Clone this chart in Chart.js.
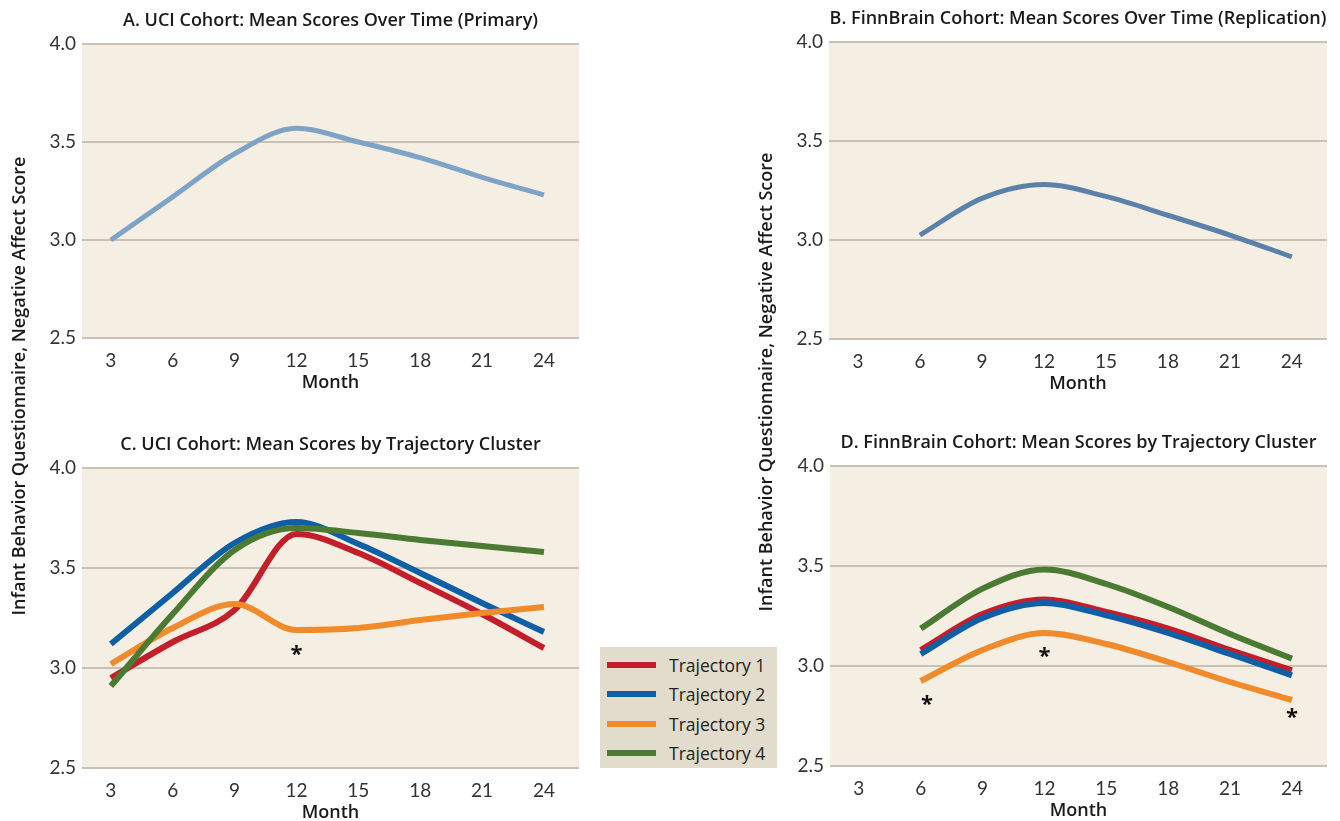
<!DOCTYPE html>
<html>
<head>
<meta charset="utf-8">
<script src="https://cdn.jsdelivr.net/npm/chart.js@4"></script>
<style>
  html, body { margin: 0; padding: 0; background: #ffffff; overflow: hidden; }
  body { width: 1340px; height: 821px; position: relative; font-family: "Open Sans", "Noto Sans", sans-serif; }
  canvas { position: absolute; }
  .ytitle {
    position: absolute; width: 540px; height: 24px; line-height: 24px;
    text-align: center; font-weight: 600; font-size: 18px; color: #1a1a1a;
    transform: rotate(-90deg); transform-origin: center center; white-space: nowrap;
  }
  #legend {
    position: absolute; left: 600px; top: 647px; width: 177px; height: 121px;
    background: #e1dccb; box-sizing: border-box; padding-top: 3px;
  }
  .item { height: 29.5px; display: flex; align-items: center; font-size: 17.5px; color: #222; }
  .item span.sw { display: inline-block; width: 49px; height: 6px; margin-left: 7px; margin-right: 13px; }
</style>
</head>
<body>
<canvas id="chartA"></canvas>
<canvas id="chartB"></canvas>
<canvas id="chartC"></canvas>
<canvas id="chartD"></canvas>
<div class="ytitle" style="left:-252px; top:374px;">Infant Behavior Questionnaire, Negative Affect Score</div>
<div class="ytitle" style="left:495px; top:370px;">Infant Behavior Questionnaire, Negative Affect Score</div>
<div id="legend"></div>
<script>
// ticks
var monthTicks = [3, 6, 9, 12, 15, 18, 21, 24];
var scoreTicks = [2.5, 3.0, 3.5, 4.0];

// UCI cohort (months 3-24)
var uciMonths = [3, 6, 9, 12, 15, 18, 21, 24];
var uciMean  = [3.00, 3.22, 3.44, 3.57, 3.50, 3.42, 3.32, 3.23];
var uciTraj1 = [2.95, 3.13, 3.29, 3.67, 3.575, 3.425, 3.27, 3.10];
var uciTraj2 = [3.12, 3.375, 3.625, 3.73, 3.62, 3.475, 3.325, 3.18];
var uciTraj3 = [3.02, 3.20, 3.32, 3.19, 3.20, 3.24, 3.275, 3.305];
var uciTraj4 = [2.91, 3.27, 3.59, 3.70, 3.675, 3.64, 3.61, 3.58];

// FinnBrain cohort (months 6-24)
var finnMonths = [6, 9, 12, 15, 18, 21, 24];
var finnMean  = [3.025, 3.21, 3.28, 3.22, 3.125, 3.025, 2.915];
var finnTraj1 = [3.08, 3.26, 3.333, 3.27, 3.187, 3.08, 2.978];
var finnTraj2 = [3.06, 3.24, 3.315, 3.253, 3.165, 3.06, 2.953];
var finnTraj3 = [2.925, 3.08, 3.165, 3.11, 3.02, 2.92, 2.83];
var finnTraj4 = [3.187, 3.387, 3.483, 3.41, 3.295, 3.16, 3.037];

// significance markers
var uciStarMonths = [12];
var uciStarValues = [3.09];
var finnStarMonths = [6.3, 12, 24];
var finnStarValues = [2.83, 3.07, 2.765];

var trajLabels = ['Trajectory 1', 'Trajectory 2', 'Trajectory 3', 'Trajectory 4'];
var trajColors = ['#c41e2a', '#0f5fa6', '#f18a2a', '#4b7a33'];

var FONT = '"Open Sans"';

function pts(xs, ys) {
  return xs.map(function (x, i) { return { x: x, y: ys[i] }; });
}

var plotBg = {
  id: 'plotBg',
  beforeDraw: function (chart) {
    var a = chart.chartArea, c = chart.ctx;
    c.save();
    c.fillStyle = '#f5eee2';
    c.fillRect(a.left, a.top, a.right - a.left, a.bottom - a.top);
    c.restore();
  }
};

var stars = {
  id: 'stars',
  afterDatasetsDraw: function (chart, args, opts) {
    if (!opts.months) return;
    var c = chart.ctx, xs = chart.scales.x, ys = chart.scales.y;
    c.save();
    c.fillStyle = '#111';
    c.font = 'bold 22px ' + FONT + ', sans-serif';
    c.textAlign = 'center';
    c.textBaseline = 'middle';
    opts.months.forEach(function (m, i) {
      c.fillText('*', xs.getPixelForValue(m), ys.getPixelForValue(opts.values[i]) + 5);
    });
    c.restore();
  }
};

function makePanel(id, box, title, datasets, starM, starV) {
  var cv = document.getElementById(id);
  var yW = 82, top = 44, xH = 62;
  cv.style.left = (box.left - yW) + 'px';
  cv.style.top = (box.top - top) + 'px';
  cv.width = box.right - box.left + yW + 4;
  cv.height = box.bottom - box.top + top + xH;
  return new Chart(cv, {
    type: 'line',
    data: { datasets: datasets },
    plugins: [plotBg, stars],
    options: {
      responsive: false,
      animation: false,
      layout: { padding: { left: 0, right: 4, top: 0, bottom: 0 } },
      elements: { point: { radius: 0 }, line: { cubicInterpolationMode: 'monotone', borderCapStyle: 'butt' } },
      plugins: {
        legend: { display: false },
        tooltip: { enabled: false },
        title: {
          display: true, text: title, fullSize: false, color: '#1a1a1a',
          font: { family: FONT, size: 18, weight: '600', lineHeight: 1.2 },
          padding: { top: 10, bottom: 12.4 }
        },
        stars: { months: starM, values: starV }
      },
      scales: {
        x: {
          type: 'linear', min: 1.6, max: 25.7,
          afterBuildTicks: function (s) { s.ticks = monthTicks.map(function (v) { return { value: v }; }); },
          afterFit: function (s) { s.height = xH; },
          grid: { display: false },
          border: { display: false },
          ticks: { color: '#333', padding: 3, font: { family: 'Lato', size: 19, weight: '400' } },
          title: {
            display: true, text: 'Month', color: '#1a1a1a',
            font: { family: FONT, size: 18, weight: '600', lineHeight: 1.2 },
            padding: { top: 0, bottom: 6 }
          }
        },
        y: {
          min: 2.5, max: 4.0,
          afterBuildTicks: function (s) { s.ticks = scoreTicks.map(function (v) { return { value: v }; }); },
          afterFit: function (s) { s.width = yW; },
          grid: { color: '#c9c1b5', lineWidth: 2, drawTicks: false },
          border: { display: false },
          ticks: {
            color: '#333', padding: 6, font: { family: 'Lato', size: 19, weight: '400' },
            callback: function (v) { return Number(v).toFixed(1); }
          }
        }
      }
    }
  });
}

function trajSets(xs, series) {
  return series.map(function (ys, i) {
    return {
      label: trajLabels[i], data: pts(xs, ys), borderColor: trajColors[i],
      borderWidth: 6, fill: false, order: series.length - i
    };
  });
}

makePanel('chartA', { left: 82, right: 579, top: 44, bottom: 338 },
  'A. UCI Cohort: Mean Scores Over Time (Primary)',
  [{ label: 'Mean', data: pts(uciMonths, uciMean), borderColor: '#7ea3c7', borderWidth: 5, fill: false }]);

makePanel('chartB', { left: 829, right: 1327, top: 42, bottom: 339 },
  'B. FinnBrain Cohort: Mean Scores Over Time (Replication)',
  [{ label: 'Mean', data: pts(finnMonths, finnMean), borderColor: '#5b81ab', borderWidth: 5, fill: false }]);

makePanel('chartC', { left: 82, right: 579, top: 468, bottom: 768 },
  'C. UCI Cohort: Mean Scores by Trajectory Cluster',
  trajSets(uciMonths, [uciTraj1, uciTraj2, uciTraj3, uciTraj4]), uciStarMonths, uciStarValues);

makePanel('chartD', { left: 830, right: 1327, top: 466, bottom: 766 },
  'D. FinnBrain Cohort: Mean Scores by Trajectory Cluster',
  trajSets(finnMonths, [finnTraj1, finnTraj2, finnTraj3, finnTraj4]), finnStarMonths, finnStarValues);

// legend shared by C and D
var lg = document.getElementById('legend');
trajLabels.forEach(function (t, i) {
  var d = document.createElement('div');
  d.className = 'item';
  d.innerHTML = '<span class="sw" style="background:' + trajColors[i] + '"></span>' + t;
  lg.appendChild(d);
});
</script>
</body>
</html>
